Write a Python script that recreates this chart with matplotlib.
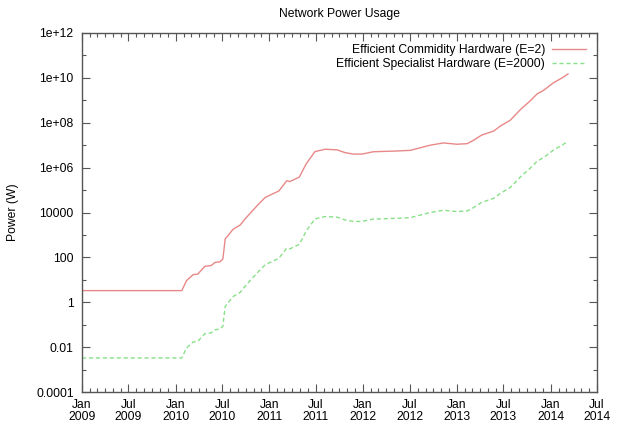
import matplotlib
matplotlib.use("Agg")
import matplotlib.pyplot as plt
import matplotlib.dates as mdates
from matplotlib.ticker import FixedLocator, FixedFormatter
import pandas as pd

plt.rcParams['font.family'] = ['Liberation Sans', 'DejaVu Sans']

title = "Network Power Usage"
ylabel = "Power (W)"
series_names = ["Efficient Commidity Hardware (E=2)", "Efficient Specialist Hardware (E=2000)"]

dates = ["2009-01-01", "2010-01-25", "2010-02-12", "2010-03-10", "2010-03-28", "2010-04-25",
         "2010-05-19", "2010-06-04", "2010-06-22", "2010-07-04", "2010-07-13", "2010-08-13",
         "2010-09-10", "2010-09-28", "2010-11-19", "2010-12-16", "2011-02-07", "2011-03-10",
         "2011-03-22", "2011-04-28", "2011-05-25", "2011-06-28", "2011-08-07", "2011-09-22",
         "2011-10-22", "2011-11-25", "2011-12-28", "2012-02-10", "2012-05-10", "2012-07-04",
         "2012-09-19", "2012-11-10", "2013-01-01", "2013-02-10", "2013-03-07", "2013-04-07",
         "2013-05-25", "2013-06-19", "2013-07-28", "2013-09-07", "2013-10-12", "2013-11-10",
         "2013-12-04", "2014-01-12", "2014-02-15", "2014-03-10"]

commodity_w = [3.3, 3.3, 9.1, 17, 18, 40,
               43, 60, 63, 85, 660, 1800,
               2800, 5100, 23000, 47000, 91000, 2.6e5,
               2.4e5, 3.8e5, 1.5e6, 5.2e6, 6.6e6, 6.2e6,
               4.7e6, 4.0e6, 4.0e6, 5.1e6, 5.5e6, 5.9e6,
               1.0e7, 1.26e7, 1.1e7, 1.17e7, 1.66e7, 2.8e7,
               4.3e7, 7.1e7, 1.3e8, 4.0e8, 9.1e8, 1.95e9,
               2.75e9, 6.0e9, 1.0e10, 1.5e10]

specialist_w = [0.0033, 0.0033, 0.0091, 0.017, 0.018, 0.040,
                0.043, 0.060, 0.063, 0.085, 0.66, 1.8,
                2.8, 5.1, 23, 47, 91, 260,
                240, 380, 1500, 5200, 6600, 6200,
                4700, 4000, 4000, 5100, 5500, 5900,
                10000, 12600, 11000, 11700, 16600, 28000,
                43000, 71000, 1.3e5, 4.0e5, 9.1e5, 1.95e6,
                2.75e6, 6.0e6, 1.0e7, 1.5e7]

ytick_values = [1e-4, 1e-2, 1, 100, 1e4, 1e6, 1e8, 1e10, 1e12]
ytick_labels = ["0.0001", "0.01", "1", "100", "10000", "1e+06", "1e+08", "1e+10", "1e+12"]
yminor_values = [1e-3, 1e-1, 10, 1e3, 1e5, 1e7, 1e9, 1e11]

FS = 8.7

x = pd.to_datetime(dates)

fig = plt.figure(figsize=(6.38, 4.40), dpi=100)
ax = fig.add_axes([82/638, 1 - 392/440, (597-82)/638, (392-33)/440])

ax.plot(x, commodity_w, color='#e88888', lw=1.0, label=series_names[0])
ax.plot(x, specialist_w, color='#88e088', lw=1.0, dashes=(3, 2), label=series_names[1])

ax.set_yscale('log')
ax.set_ylim(1e-4, 1e12)
ax.yaxis.set_major_locator(FixedLocator(ytick_values))
ax.yaxis.set_major_formatter(FixedFormatter(ytick_labels))
ax.yaxis.set_minor_locator(FixedLocator(yminor_values))
ax.yaxis.set_minor_formatter(FixedFormatter([]))

ax.set_xlim(pd.Timestamp("2009-01-01"), pd.Timestamp("2014-07-01"))
ax.xaxis.set_major_locator(mdates.MonthLocator(bymonth=[1, 7]))
ax.xaxis.set_major_formatter(mdates.DateFormatter("%b\n%Y"))
ax.xaxis.set_minor_locator(mdates.MonthLocator())

for s in ax.spines.values():
    s.set_color('#555555')
    s.set_linewidth(1.0)

ax.tick_params(which='both', direction='in', top=True, right=True, colors='#555555',
               labelcolor='black', labelsize=FS)
ax.tick_params(which='major', length=6, width=0.8)
ax.tick_params(which='minor', length=3, width=0.8)
ax.tick_params(axis='x', which='major', pad=5)
ax.tick_params(axis='y', which='major', pad=6)
for lbl in ax.get_xticklabels():
    lbl.set_linespacing(1.05)

fig.text(339.5/638, 1 - 14/440, title, ha='center', va='center', fontsize=FS)
fig.text(13/638, 1 - 212/440, ylabel, ha='center', va='center', rotation=90, fontsize=FS)

leg = ax.legend(loc='upper right', frameon=False, markerfirst=False, fontsize=FS,
                handlelength=2.8, handletextpad=0.6, labelspacing=0.2,
                borderaxespad=0.6, borderpad=0.3)

fig.savefig("out.png", dpi=100)
